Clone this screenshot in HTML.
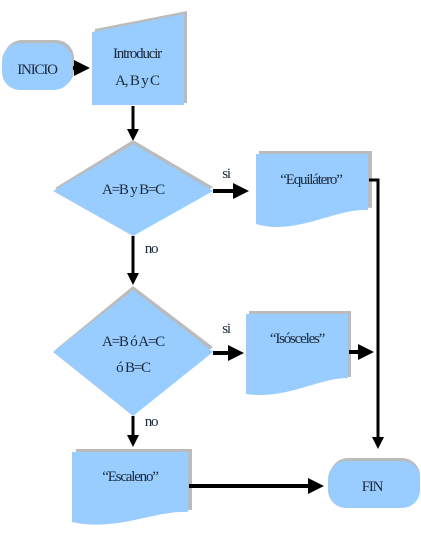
<!DOCTYPE html>
<html><head><style>body{margin:0;background:#fff}svg{display:block}text{font-family:"Liberation Serif",serif;font-size:15px;fill:#1a2a3a;text-anchor:middle;letter-spacing:-1.2px}</style></head><body>
<svg width="421" height="553" viewBox="0 0 421 553">
<defs><marker id="a" markerWidth="4" markerHeight="4" refX="3" refY="2" orient="auto" markerUnits="strokeWidth"><path d="M0,0L4,2L0,4z" fill="#000"/></marker></defs>
<rect x="4" y="40" width="70" height="48" rx="18" fill="#bbb"/>
<rect x="2" y="43" width="70" height="47" rx="18" fill="#99ccff"/>
<text x="37" y="74">INICIO</text>
<line x1="73" y1="68" x2="86" y2="68" stroke="#000" stroke-width="4" marker-end="url(#a)"/>
<polygon points="95,29 187,11 187,103 95,105" fill="#bbb"/>
<polygon points="92,32 184,14 184,105 92,105" fill="#99ccff"/>
<text x="137" y="58">Introducir</text><text x="137" y="85">A, B y C</text>
<line x1="133" y1="106" x2="133" y2="138" stroke="#000" stroke-width="3" marker-end="url(#a)"/>
<polygon points="133,140 213,187 133,233 55,188" fill="#bbb"/>
<polygon points="133,144 213,191 133,236 53,191" fill="#99ccff"/>
<text x="133" y="194">A=B y B=C</text>
<line x1="213" y1="191" x2="245" y2="191" stroke="#000" stroke-width="4" marker-end="url(#a)"/>
<text x="226" y="178">si</text>
<path d="M259,151H372V208C340,205 300,232 259,222Z" fill="#bbb"/>
<path d="M256,154H368V210C336,208 296,236 256,224Z" fill="#99ccff"/>
<text x="311" y="184">“Equilátero”</text>
<polyline points="369,180 378,180 378,446" fill="none" stroke="#000" stroke-width="3" marker-end="url(#a)"/>
<text x="151" y="253">no</text>
<line x1="133" y1="236" x2="133" y2="282" stroke="#000" stroke-width="3" marker-end="url(#a)"/>
<polygon points="133,286 213,347 133,413 55,350" fill="#bbb"/>
<polygon points="133,290 213,352 133,416 53,352" fill="#99ccff"/>
<text x="133" y="346">A=B ó A=C</text><text x="133" y="372">ó B=C</text>
<line x1="213" y1="353" x2="240" y2="353" stroke="#000" stroke-width="4" marker-end="url(#a)"/>
<text x="226" y="333">si</text>
<path d="M249,311H351V377C320,376 290,398 249,392Z" fill="#bbb"/>
<path d="M246,314H348V378C318,378 286,400 246,394Z" fill="#99ccff"/>
<text x="297" y="343">“Isósceles”</text>
<line x1="349" y1="352" x2="370" y2="352" stroke="#000" stroke-width="4" marker-end="url(#a)"/>
<text x="151" y="426">no</text>
<line x1="133" y1="416" x2="133" y2="444" stroke="#000" stroke-width="3" marker-end="url(#a)"/>
<path d="M76,449H192V510C160,508 120,530 76,520Z" fill="#bbb"/>
<path d="M72,452H188V512C156,510 116,532 72,522Z" fill="#99ccff"/>
<text x="130" y="481">“Escaleno”</text>
<line x1="189" y1="486" x2="320" y2="486" stroke="#000" stroke-width="4" marker-end="url(#a)"/>
<rect x="330" y="458" width="90" height="48" rx="18" fill="#bbb"/>
<rect x="328" y="461" width="92" height="47" rx="18" fill="#99ccff"/>
<text x="372" y="491">FIN</text>
</svg>
</body></html>
